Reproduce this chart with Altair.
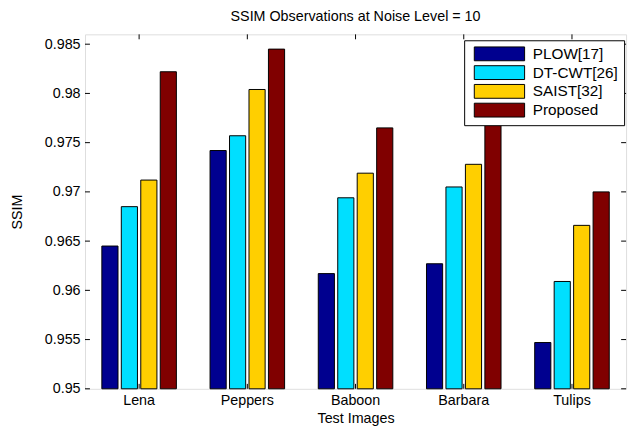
import altair as alt
import pandas as pd

images = ["Lena", "Peppers", "Baboon", "Barbara", "Tulips"]
methods = ["PLOW[17]", "DT-CWT[26]", "SAIST[32]", "Proposed"]
plow = [0.9645, 0.9742, 0.9617, 0.9627, 0.9547]
dtcwt = [0.9685, 0.9757, 0.9694, 0.9705, 0.9609]
saist = [0.9712, 0.9804, 0.9719, 0.9728, 0.9666]
proposed = [0.9822, 0.9845, 0.9765, 0.9785, 0.9700]
colors = ["#00008F", "#00DFFF", "#FFCF00", "#800000"]
yticks = [0.95, 0.955, 0.96, 0.965, 0.97, 0.975, 0.98, 0.985]

rows = []
for m, vals in zip(methods, [plow, dtcwt, saist, proposed]):
    for img, v in zip(images, vals):
        rows.append({"image": img, "method": m, "value": v})
df = pd.DataFrame(rows)

FONT = "Liberation Sans"
FS = 14.5
W, H = 548, 359

xenc = alt.X("image:N", sort=images,
             scale=alt.Scale(paddingInner=0, paddingOuter=0),
             axis=alt.Axis(title="Test Images", labelAngle=0, ticks=False, domain=False,
                           labelFont=FONT, labelFontSize=FS, labelColor="black",
                           titleFont=FONT, titleFontSize=FS, titleFontWeight="normal",
                           titleColor="black", labelPadding=5, titlePadding=5))
yscale = alt.Scale(domain=[0.95, 0.986], zero=False, nice=False)

bars = alt.Chart(df).mark_bar(stroke="black", strokeWidth=1).encode(
    x=xenc,
    xOffset=alt.XOffset("method:N", sort=methods,
                        scale=alt.Scale(paddingInner=0.17, paddingOuter=0.865)),
    y=alt.Y("value:Q", scale=yscale,
            axis=alt.Axis(title="SSIM", values=yticks, format=".3~f", ticks=False,
                          domain=False, grid=False, labelFont=FONT, labelFontSize=FS,
                          labelColor="black", labelPadding=5, titleFont=FONT,
                          titleFontSize=FS, titleFontWeight="normal", titleColor="black",
                          titlePadding=20)),
    y2=alt.datum(0.95),
    color=alt.Color("method:N", sort=methods,
                    scale=alt.Scale(domain=methods, range=colors),
                    legend=alt.Legend(title=None, orient="none", legendX=384, legendY=6,
                                      fillColor="white", strokeColor="black",
                                      padding=6, labelFont=FONT, labelFontSize=15.5,
                                      labelColor="black",
                                      symbolType="M-3.64,-1L3.64,-1L3.64,1L-3.64,1Z",
                                      symbolSize=196, symbolStrokeColor="black",
                                      symbolStrokeWidth=1, symbolOpacity=1,
                                      symbolOffset=22,
                                      rowPadding=0, labelOffset=26)),
)

ytick_df = pd.DataFrame({"v": yticks})
left_ticks = alt.Chart(ytick_df).mark_rule(color="black").encode(
    y=alt.Y("v:Q", scale=yscale), x=alt.value(0), x2=alt.value(5))
right_ticks = alt.Chart(ytick_df).mark_rule(color="black").encode(
    y=alt.Y("v:Q", scale=yscale), x=alt.value(W - 5), x2=alt.value(W))

xtick_df = pd.DataFrame({"image": images})
top_ticks = alt.Chart(xtick_df).mark_rule(color="black").encode(
    x=alt.X("image:N", sort=images), y=alt.value(0), y2=alt.value(5))
bottom_ticks = alt.Chart(xtick_df).mark_rule(color="black").encode(
    x=alt.X("image:N", sort=images), y=alt.value(H - 5), y2=alt.value(H))

chart = alt.layer(bars, left_ticks, right_ticks, top_ticks, bottom_ticks).properties(
    width=W, height=H,
    title=alt.TitleParams("SSIM Observations at Noise Level = 10", font=FONT,
                          fontSize=FS, fontWeight="normal", color="black", offset=10,
                          anchor="middle"),
    autosize="none",
    padding={"left": 78, "top": 24, "right": 6, "bottom": 36},
).configure_view(stroke="black", strokeWidth=1.2).configure(background="white")

chart.save("out.html", embed_options={"renderer": "svg", "actions": False})
